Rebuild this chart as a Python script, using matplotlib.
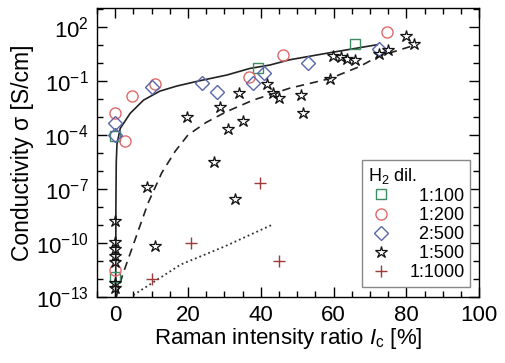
import numpy as np
import matplotlib.pyplot as plt
from matplotlib.ticker import FixedLocator, FuncFormatter

plt.rcParams['font.family'] = ['Liberation Sans', 'DejaVu Sans']
plt.rcParams['mathtext.fontset'] = 'custom'
plt.rcParams['mathtext.rm'] = 'Liberation Sans'
plt.rcParams['mathtext.it'] = 'Liberation Sans:italic'

# data: x = Raman ratio [%], y = log10(conductivity)
sq_x = [0.0, 39.3, 65.9, 0.0]
sq_y = [-4.05, -0.3, 1.07, -11.9]

ci_x = [0.0, 2.7, 4.6, 11.0, 36.8, 46.0, 74.7, 0.0]
ci_y = [-2.75, -4.33, -1.85, -1.15, -0.8, 0.44, 1.7, -11.5]

di_x = [0.0, 0.0, 10.1, 23.8, 28.0, 37.8, 41.0, 53.0, 72.4]
di_y = [-3.35, -4.0, -1.33, -1.13, -1.62, -1.13, -0.53, 0.02, 0.76]

st_x = [0.0, 0.0, 0.0, 0.0, 0.0, 0.0, 0.0, 8.8, 11.0, 19.6, 27.1, 28.9, 31.0,
        32.9, 33.9, 35.0, 41.6, 43.4, 45.1, 51.1, 51.6, 58.9, 59.8, 62.0,
        63.8, 66.0, 72.4, 74.9, 79.9, 82.2]
st_y = [-8.76, -9.95, -10.35, -10.72, -11.04, -12.2, -12.5, -6.87, -10.17,
        -2.98, -5.48, -2.46, -3.65, -7.56, -1.64, -3.2, -1.15, -1.68, -1.96,
        -1.78, -2.76, -0.91, 0.38, 0.32, 0.25, 0.15, 0.5, 0.72, 1.5, 1.04]

cr_x = [10.0, 20.7, 39.9, 45.0]
cr_y = [-12.02, -10.02, -6.68, -11.0]

solid_x = [0.15, 0.2, 0.3, 0.5, 1.4, 4.1, 7.8, 12.3, 16.9, 23.3, 30.6, 37.0, 42.5, 47.9, 58.0, 72.0]
solid_y = [-13.0, -8.0, -5.5, -4.5, -3.63, -2.8, -2.06, -1.56, -1.28, -0.98, -0.67, -0.3, -0.11, 0.18, 0.54, 1.02]

dash_x = [0.3, 2.0, 5.5, 9.0, 12.8, 16.5, 20.0, 25.0, 30.6, 37.9, 47.9, 58.9, 67.1, 72.1, 80.8, 82.7]
dash_y = [-13.0, -11.8, -9.8, -7.8, -6.1, -4.9, -4.0, -3.3, -2.7, -2.06, -1.4, -0.87, -0.2, 0.35, 0.9, 1.1]

dot_x = [5.0, 18.0, 30.0, 43.0]
dot_y = [-12.9, -11.2, -10.2, -9.0]

to_lin = lambda v: 10.0 ** np.array(v)

fig = plt.figure(figsize=(5.05, 3.63), dpi=100)
ax = fig.add_axes([0.192, 0.182, 0.757, 0.796])

ax.plot(solid_x, to_lin(solid_y), '-', color='#222222', lw=1.2, zorder=1)
ax.plot(dash_x, to_lin(dash_y), '--', color='#222222', lw=1.2, dashes=(5, 3.5), zorder=1)
ax.plot(dot_x, to_lin(dot_y), ':', color='#333333', lw=1.3, zorder=1)

ax.plot(sq_x, to_lin(sq_y), 's', ls='none', mfc='none', mec='#3c8c64', mew=1.0, ms=7, label='  1:100')
ax.plot(ci_x, to_lin(ci_y), 'o', ls='none', mfc='none', mec='#e06a6a', mew=1.0, ms=8, label='  1:200')
ax.plot(di_x, to_lin(di_y), 'D', ls='none', mfc='none', mec='#5a66aa', mew=1.0, ms=7, label='  2:500')
ax.plot(st_x, to_lin(st_y), '*', ls='none', mfc='none', mec='#111111', mew=0.9, ms=9, label='  1:500')
ax.plot(cr_x, to_lin(cr_y), '+', ls='none', mec='#a03a3a', mew=1.0, ms=9, label='1:1000')

ax.set_yscale('log')
ax.set_xlim(-5, 100)
ax.set_ylim(1e-13, 10 ** 3.06)

ax.xaxis.set_major_locator(FixedLocator([0, 20, 40, 60, 80, 100]))
ax.xaxis.set_minor_locator(FixedLocator(np.arange(-5, 101, 5)))
ax.yaxis.set_major_locator(FixedLocator(10.0 ** np.arange(-13, 3, 3)))
ax.yaxis.set_minor_locator(FixedLocator(10.0 ** np.arange(-13, 4, 1)))
ax.yaxis.set_major_formatter(FuncFormatter(lambda v, p: r'$\mathregular{10^{%d}}$' % round(np.log10(v))))
ax.yaxis.set_minor_formatter(FuncFormatter(lambda v, p: ''))

ax.tick_params(which='both', direction='in', top=True, right=True, labelsize=16, width=1.0)
ax.tick_params(which='major', length=7, pad=6)
ax.tick_params(which='minor', length=4)
for s in ax.spines.values():
    s.set_linewidth(1.0)

ax.set_xlabel(r'Raman intensity ratio $I_\mathregular{c}$ [%]', fontsize=16, labelpad=0)
ax.set_ylabel('Conductivity σ [S/cm]', fontsize=16.5, labelpad=1)

leg = ax.legend(title='H$_\\mathregular{2}$ dil.', loc='lower right', bbox_to_anchor=(0.976, 0.035),
                borderaxespad=0, fontsize=13, title_fontsize=13, alignment='left',
                fancybox=False, edgecolor='#888888', framealpha=1, handletextpad=0.8,
                labelspacing=0.12, borderpad=0.3, handlelength=1.5)
leg.get_frame().set_linewidth(1.0)

fig.savefig('out.png', dpi=100)
